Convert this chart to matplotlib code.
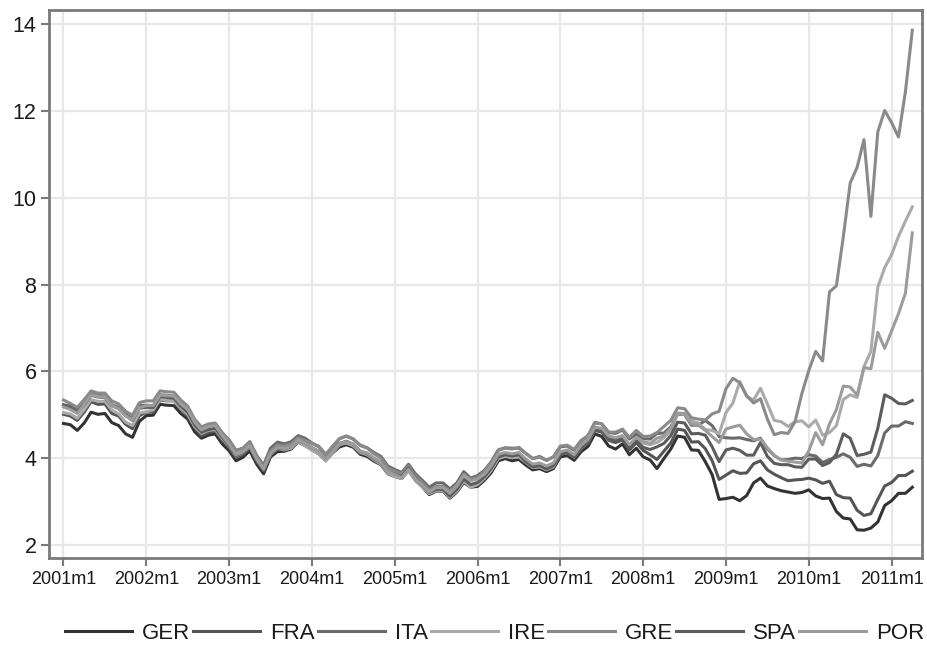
import numpy as np
import matplotlib
matplotlib.use("Agg")
import matplotlib.pyplot as plt

plt.rcParams["font.family"] = ["Liberation Sans", "DejaVu Sans"]

# 10-year government bond yields, monthly, 2001m1 - 2011m4
ger = [4.80, 4.77, 4.64, 4.81, 5.06, 5.01, 5.03, 4.82, 4.75, 4.56, 4.48, 4.85,
       4.98, 4.99, 5.24, 5.22, 5.21, 5.03, 4.90, 4.61, 4.46, 4.53, 4.56, 4.33,
       4.17, 3.94, 4.02, 4.17, 3.86, 3.64, 4.03, 4.15, 4.16, 4.21, 4.37, 4.29,
       4.19, 4.10, 3.95, 4.12, 4.26, 4.31, 4.25, 4.09, 4.04, 3.93, 3.85, 3.64,
       3.58, 3.53, 3.72, 3.49, 3.34, 3.16, 3.24, 3.24, 3.08, 3.22, 3.44, 3.33,
       3.35, 3.49, 3.67, 3.94, 3.99, 3.94, 3.97, 3.84, 3.73, 3.76, 3.69, 3.76,
       4.03, 4.06, 3.95, 4.15, 4.27, 4.56, 4.50, 4.28, 4.21, 4.33, 4.08, 4.23,
       4.03, 3.96, 3.76, 3.99, 4.21, 4.51, 4.48, 4.19, 4.18, 3.92, 3.62, 3.05,
       3.07, 3.10, 3.02, 3.14, 3.43, 3.54, 3.36, 3.30, 3.25, 3.22, 3.19, 3.21,
       3.27, 3.13, 3.07, 3.08, 2.77, 2.62, 2.60, 2.35, 2.34, 2.39, 2.53, 2.91,
       3.02, 3.19, 3.19, 3.33]
fra = [5.01, 4.97, 4.87, 5.06, 5.30, 5.24, 5.25, 5.03, 4.97, 4.78, 4.68, 4.98,
       5.06, 5.06, 5.34, 5.32, 5.32, 5.14, 4.98, 4.71, 4.51, 4.59, 4.62, 4.41,
       4.25, 4.02, 4.09, 4.24, 3.93, 3.71, 4.09, 4.21, 4.19, 4.24, 4.40, 4.33,
       4.23, 4.15, 3.97, 4.16, 4.33, 4.36, 4.30, 4.15, 4.10, 3.99, 3.90, 3.69,
       3.63, 3.57, 3.75, 3.52, 3.37, 3.20, 3.27, 3.27, 3.13, 3.27, 3.50, 3.38,
       3.42, 3.55, 3.73, 4.01, 4.06, 4.03, 4.05, 3.91, 3.79, 3.81, 3.75, 3.81,
       4.10, 4.13, 4.03, 4.24, 4.35, 4.64, 4.60, 4.41, 4.36, 4.42, 4.19, 4.36,
       4.18, 4.08, 3.97, 4.16, 4.35, 4.67, 4.64, 4.37, 4.38, 4.22, 3.94, 3.51,
       3.61, 3.71, 3.65, 3.66, 3.87, 3.94, 3.73, 3.63, 3.55, 3.48, 3.50, 3.51,
       3.54, 3.50, 3.42, 3.47, 3.16, 3.09, 3.08, 2.80, 2.68, 2.72, 3.05, 3.36,
       3.44, 3.60, 3.60, 3.70]
ita = [5.23, 5.20, 5.12, 5.28, 5.48, 5.45, 5.43, 5.23, 5.17, 5.01, 4.91, 5.21,
       5.22, 5.21, 5.46, 5.45, 5.43, 5.26, 5.12, 4.84, 4.66, 4.74, 4.78, 4.58,
       4.42, 4.18, 4.23, 4.38, 4.06, 3.84, 4.23, 4.37, 4.33, 4.38, 4.52, 4.46,
       4.35, 4.27, 4.09, 4.26, 4.45, 4.51, 4.44, 4.30, 4.24, 4.13, 4.04, 3.82,
       3.74, 3.67, 3.86, 3.64, 3.49, 3.33, 3.43, 3.43, 3.29, 3.43, 3.69, 3.54,
       3.60, 3.72, 3.92, 4.19, 4.24, 4.23, 4.23, 4.11, 3.99, 4.04, 3.95, 4.03,
       4.26, 4.28, 4.18, 4.39, 4.51, 4.82, 4.79, 4.59, 4.57, 4.65, 4.44, 4.56,
       4.45, 4.44, 4.57, 4.58, 4.72, 5.01, 5.01, 4.76, 4.76, 4.87, 4.75, 4.50,
       4.47, 4.46, 4.47, 4.43, 4.40, 4.46, 4.21, 4.06, 3.96, 3.97, 4.00, 3.99,
       4.08, 4.05, 3.90, 3.97, 4.02, 4.10, 4.02, 3.81, 3.86, 3.82, 4.06, 4.58,
       4.74, 4.74, 4.84, 4.80]
ire = [5.05, 5.02, 4.92, 5.12, 5.35, 5.31, 5.31, 5.11, 5.02, 4.83, 4.75, 5.04,
       5.07, 5.11, 5.36, 5.33, 5.32, 5.16, 5.01, 4.73, 4.57, 4.64, 4.66, 4.45,
       4.28, 4.05, 4.13, 4.27, 3.96, 3.73, 4.08, 4.23, 4.19, 4.23, 4.38, 4.29,
       4.18, 4.10, 3.93, 4.12, 4.31, 4.35, 4.28, 4.13, 4.08, 3.96, 3.86, 3.65,
       3.58, 3.53, 3.71, 3.50, 3.34, 3.18, 3.25, 3.25, 3.10, 3.24, 3.47, 3.33,
       3.39, 3.53, 3.72, 3.99, 4.04, 4.01, 4.03, 3.90, 3.78, 3.80, 3.73, 3.80,
       4.10, 4.13, 4.02, 4.23, 4.37, 4.67, 4.64, 4.44, 4.41, 4.48, 4.27, 4.43,
       4.35, 4.31, 4.36, 4.47, 4.63, 5.03, 5.01, 4.86, 4.81, 4.66, 4.64, 4.56,
       5.05, 5.27, 5.76, 5.42, 5.34, 5.61, 5.25, 4.87, 4.84, 4.73, 4.84, 4.86,
       4.72, 4.88, 4.53, 4.59, 4.75, 5.35, 5.46, 5.40, 6.11, 6.46, 7.94, 8.39,
       8.69, 9.11, 9.46, 9.79]
gre = [5.34, 5.26, 5.17, 5.35, 5.55, 5.50, 5.50, 5.32, 5.25, 5.08, 4.99, 5.28,
       5.32, 5.32, 5.55, 5.53, 5.52, 5.34, 5.20, 4.90, 4.72, 4.79, 4.81, 4.59,
       4.40, 4.16, 4.23, 4.36, 4.04, 3.80, 4.16, 4.31, 4.28, 4.33, 4.47, 4.41,
       4.34, 4.26, 4.08, 4.28, 4.45, 4.51, 4.44, 4.29, 4.23, 4.10, 4.00, 3.78,
       3.70, 3.64, 3.82, 3.59, 3.44, 3.27, 3.35, 3.35, 3.24, 3.39, 3.63, 3.51,
       3.56, 3.69, 3.91, 4.18, 4.23, 4.21, 4.25, 4.11, 3.99, 4.02, 3.95, 4.03,
       4.28, 4.30, 4.20, 4.41, 4.52, 4.82, 4.79, 4.60, 4.60, 4.67, 4.48, 4.64,
       4.50, 4.51, 4.59, 4.73, 4.87, 5.16, 5.14, 4.93, 4.90, 4.88, 5.02, 5.08,
       5.60, 5.84, 5.74, 5.44, 5.27, 5.37, 4.90, 4.54, 4.59, 4.57, 4.84, 5.49,
       6.02, 6.46, 6.24, 7.83, 7.97, 9.10, 10.34, 10.70, 11.34, 9.57, 11.52, 12.01,
       11.73, 11.40, 12.44, 13.86]
spa = [5.22, 5.14, 5.05, 5.23, 5.45, 5.41, 5.40, 5.21, 5.14, 4.98, 4.87, 5.15,
       5.17, 5.17, 5.42, 5.40, 5.38, 5.20, 5.06, 4.77, 4.60, 4.66, 4.69, 4.48,
       4.29, 4.06, 4.14, 4.28, 3.96, 3.72, 4.09, 4.24, 4.21, 4.27, 4.41, 4.35,
       4.24, 4.16, 3.99, 4.16, 4.34, 4.39, 4.32, 4.16, 4.11, 3.99, 3.89, 3.69,
       3.63, 3.58, 3.77, 3.54, 3.38, 3.21, 3.28, 3.28, 3.13, 3.28, 3.52, 3.39,
       3.44, 3.57, 3.77, 4.03, 4.08, 4.05, 4.08, 3.92, 3.80, 3.83, 3.75, 3.83,
       4.08, 4.13, 4.02, 4.24, 4.36, 4.65, 4.62, 4.44, 4.40, 4.45, 4.24, 4.40,
       4.25, 4.20, 4.26, 4.34, 4.52, 4.83, 4.81, 4.56, 4.57, 4.53, 4.26, 3.92,
       4.19, 4.23, 4.18, 4.07, 4.07, 4.36, 4.04, 3.88, 3.85, 3.85, 3.80, 3.79,
       3.98, 3.98, 3.83, 3.90, 4.09, 4.56, 4.46, 4.06, 4.09, 4.14, 4.69, 5.46,
       5.38, 5.26, 5.25, 5.33]
por = [5.18, 5.12, 5.03, 5.24, 5.46, 5.42, 5.41, 5.21, 5.14, 4.98, 4.88, 5.16,
       5.21, 5.21, 5.45, 5.44, 5.43, 5.25, 5.12, 4.83, 4.65, 4.73, 4.75, 4.52,
       4.32, 4.08, 4.15, 4.29, 3.98, 3.75, 4.11, 4.25, 4.22, 4.27, 4.42, 4.35,
       4.24, 4.16, 3.98, 4.16, 4.34, 4.38, 4.32, 4.16, 4.12, 4.00, 3.90, 3.69,
       3.62, 3.55, 3.74, 3.52, 3.38, 3.22, 3.32, 3.32, 3.19, 3.35, 3.61, 3.48,
       3.52, 3.63, 3.83, 4.09, 4.13, 4.10, 4.13, 3.98, 3.86, 3.89, 3.82, 3.89,
       4.15, 4.19, 4.08, 4.30, 4.43, 4.71, 4.69, 4.51, 4.47, 4.52, 4.31, 4.48,
       4.38, 4.34, 4.46, 4.51, 4.69, 5.04, 5.03, 4.79, 4.76, 4.64, 4.50, 4.36,
       4.67, 4.72, 4.76, 4.56, 4.43, 4.44, 4.24, 4.06, 3.96, 3.93, 3.91, 3.89,
       4.17, 4.59, 4.31, 4.79, 5.12, 5.66, 5.64, 5.45, 6.09, 6.06, 6.90, 6.53,
       6.93, 7.33, 7.80, 9.19]

countries = ["GER", "FRA", "ITA", "IRE", "GRE", "SPA", "POR"]
series = [ger, fra, ita, ire, gre, spa, por]
colors = ["#333333", "#555555", "#6a6a6a", "#aaaaaa", "#8a8a8a", "#5c5c5c", "#9c9c9c"]

years = list(range(2001, 2012))
tick_labels = [f"{y}m1" for y in years]

fig = plt.figure(figsize=(9.28, 6.46), dpi=100)
ax = fig.add_axes([0.0528, 0.1362, 0.9407, 0.848])

months = np.arange(len(ger))
for name, vals, col in zip(countries, series, colors):
    ax.plot(months, vals, color=col, lw=2.2, label=name, solid_joinstyle="round")

ax.set_xlim(-2.1, 124.4)
ax.set_ylim(1.7, 14.32)
ax.set_xticks([12 * i for i in range(len(years))])
ax.set_xticklabels(tick_labels)
ax.set_yticks([2, 4, 6, 8, 10, 12, 14])
ax.tick_params(axis="x", labelsize=13, length=6, width=1.5, color="#7a7a7a",
               labelcolor="#1a1a1a", pad=3)
ax.tick_params(axis="y", labelsize=15.5, length=6, width=1.5, color="#7a7a7a",
               labelcolor="#1a1a1a", pad=3)
ax.grid(True, color="#e8e8e8", lw=1.6)
ax.set_axisbelow(True)
for s in ax.spines.values():
    s.set_color("#7a7a7a")
    s.set_linewidth(2)

fig.legend(loc="center", bbox_to_anchor=(0.533, 0.019), ncol=7, frameon=False,
           fontsize=16, handlelength=3.0, handletextpad=0.45, columnspacing=0.15,
           labelcolor="#1a1a1a")

fig.savefig("out.png", dpi=100)
